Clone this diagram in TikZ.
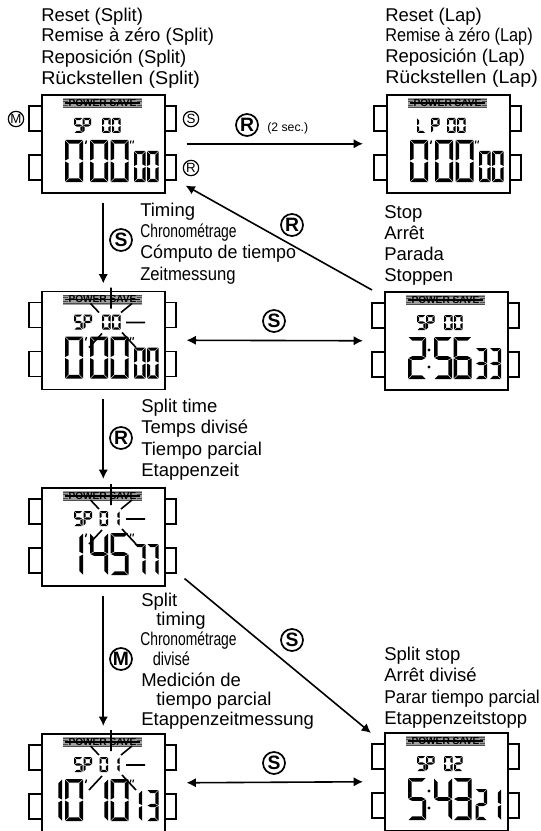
\documentclass[tikz,border=0pt]{standalone}
\usepackage{graphicx}
\usepackage{fontspec}
\setmainfont{Liberation Sans}
\usetikzlibrary{arrows.meta,calc}
\newcommand\sx[2]{\scalebox{#1}[1]{#2}}
% seven-segment pieces
\newcommand\segA{\fill (\qg,0)--(\qw-\qg,0)--(\qw-\qg-\qt,\qt)--(\qg+\qt,\qt)--cycle;}
\newcommand\segD{\fill (\qg,\qh)--(\qw-\qg,\qh)--(\qw-\qg-\qt,\qh-\qt)--(\qg+\qt,\qh-\qt)--cycle;}
\newcommand\segF{\fill (0,\qg)--(\qt,\qg+\qt)--(\qt,\qm-\qg-\qt/2)--(0,\qm-\qg)--cycle;}
\newcommand\segE{\fill (0,\qm+\qg)--(\qt,\qm+\qg+\qt/2)--(\qt,\qh-\qg-\qt)--(0,\qh-\qg)--cycle;}
\newcommand\segB{\fill (\qw,\qg)--(\qw-\qt,\qg+\qt)--(\qw-\qt,\qm-\qg-\qt/2)--(\qw,\qm-\qg)--cycle;}
\newcommand\segC{\fill (\qw,\qm+\qg)--(\qw-\qt,\qm+\qg+\qt/2)--(\qw-\qt,\qh-\qg-\qt)--(\qw,\qh-\qg)--cycle;}
\newcommand\segG{\fill (\qg,\qm)--(\qg+\qt,\qm-\qt/2)--(\qw-\qg-\qt,\qm-\qt/2)--(\qw-\qg,\qm)--(\qw-\qg-\qt,\qm+\qt/2)--(\qg+\qt,\qm+\qt/2)--cycle;}
\expandafter\def\csname dg0\endcsname{A,B,C,D,E,F}
\expandafter\def\csname dg1\endcsname{B,C}
\expandafter\def\csname dg2\endcsname{A,B,G,E,D}
\expandafter\def\csname dg3\endcsname{A,B,G,C,D}
\expandafter\def\csname dg4\endcsname{F,G,B,C}
\expandafter\def\csname dg5\endcsname{A,F,G,C,D}
\expandafter\def\csname dg6\endcsname{A,F,G,C,D,E}
\expandafter\def\csname dg7\endcsname{A,B,C}
\expandafter\def\csname dgS\endcsname{A,F,G,C,D}
\expandafter\def\csname dgP\endcsname{A,B,G,E,F}
\expandafter\def\csname dgL\endcsname{F,E,D}
% \dig{x}{y}{w}{h}{t}{char}
\newcommand\dig[6]{%
  \begin{scope}[shift={(#1,#2)}]
    \def\qw{#3}\def\qh{#4}\def\qt{#5}\def\qg{0.5}\pgfmathsetmacro\qm{#4/2}%
    \edef\qlist{\csname dg#6\endcsname}%
    \foreach \qs in \qlist {\csname seg\qs\endcsname}
  \end{scope}}
\newcommand\bigd[2]{\dig{#1}{46}{18}{42}{3.7}{#2}}
\newcommand\smalld[2]{\dig{#1}{57}{11.5}{31}{3.1}{#2}}
\newcommand\topd[2]{\dig{#1}{24}{8.5}{15}{2.2}{#2}}
\newcommand\tickA{\draw[line width=1] (45.5,46.5)--(44.5,50);}
\newcommand\tickB{\draw[line width=.8] (90,46.5)--(89.3,49.5) (92.5,46.5)--(91.8,49.5);}
\newcommand\colondots{\fill (45,59) circle (1.7) (45,76) circle (1.7);}
\newcommand\rays{\draw[ray] (70,-3)--(70,18) (49.5,13)--(58,22) (91,13)--(80,22) (61,43)--(48,57) (81,42)--(95,57) (85,32)--(104,32);}
% \watch{name}{x}{y}{content}
\newcommand\watch[4]{%
  \node[body] (#1) at (#2,#3) {};
  \begin{scope}[shift={(#2,#3)}]
    \draw[edge] (0,12)--(-12,12)--(-12,37)--(0,37) (0,61)--(-12,61)--(-12,86)--(0,86);
    \draw[edge] (123,12)--(135,12)--(135,37)--(123,37) (123,61)--(135,61)--(135,86)--(123,86);
    \fill[gray!75] (22,4) rectangle (101,14);
    \draw[line width=.5,black!70] (22,5)--(101,5) (22,7)--(27,7) (96,7)--(101,7) (22,11)--(27,11) (96,11)--(101,11) (22,13)--(101,13);
    \node[powertext] (#1p) at (61.5,9) {POWER SAVE};
    \draw[line width=.8] (24,9)--(99,9);
    #4
  \end{scope}}
\tikzset{
  x=.75pt,y=-.75pt,
  edge/.style={line width=1.15},
  ray/.style={line width=1.2},
  body/.style={draw,line width=1.15,anchor=north west,rectangle,inner sep=0,minimum width=92.25pt,minimum height=73.5pt},
  powertext/.style={inner sep=0,font=\bfseries\fontsize{7.6}{8}\selectfont,text=black},
  tx/.style={anchor=base west,inner sep=0,font=\fontsize{13.875}{16}\selectfont},
  arr/.style={line width=1.2,-{Latex[length=7pt,width=7pt]}},
  darr/.style={line width=1.2,{Latex[length=7pt,width=7pt]}-{Latex[length=7pt,width=7pt]}},
  bigc/.style={draw,circle,line width=1.3,inner sep=0,minimum size=16.5pt,font=\bfseries\fontsize{14.5}{15}\selectfont},
  smallc/.style={draw,circle,line width=.9,inner sep=0,minimum size=11.5pt,font=\fontsize{10}{10}\selectfont},
}
\begin{document}
\begin{tikzpicture}
\useasboundingbox (0,0) rectangle (541,831);
% watches
\watch{wa}{41}{94}{\topd{33}{S}\topd{41.5}{P}\topd{61}{0}\topd{71}{0}\bigd{24}{0}\tickA\bigd{49}{0}\bigd{69.5}{0}\tickB\smalld{93}{0}\smalld{106}{0}}
\watch{wb}{386}{94}{\topd{31}{L}\topd{45}{P}\topd{61}{0}\topd{71}{0}\bigd{24}{0}\tickA\bigd{49}{0}\bigd{69.5}{0}\tickB\smalld{93}{0}\smalld{106}{0}}
\watch{wc}{41}{290.5}{\rays\topd{33}{S}\topd{42.5}{P}\topd{61}{0}\topd{71}{0}\bigd{24}{0}\tickA\bigd{49}{0}\bigd{69.5}{0}\tickB\smalld{93}{0}\smalld{106}{0}}
\watch{wd}{384}{291}{\topd{33}{S}\topd{42}{P}\topd{60}{0}\topd{70}{0}\bigd{24}{2}\colondots\bigd{50}{5}\bigd{69.5}{6}\smalld{91.5}{3}\smalld{105.5}{3}}
\watch{we}{41}{487}{\rays\topd{33}{S}\topd{42.5}{P}\topd{58.5}{0}\topd{70}{1}\bigd{24}{1}\tickA\bigd{49}{4}\bigd{69.5}{5}\tickB\smalld{93}{7}\smalld{106}{7}}
\watch{wf}{41}{733}{\rays\topd{33}{S}\topd{42.5}{P}\topd{58.5}{0}\topd{70}{1}\bigd{3}{1}\bigd{24}{0}\tickA\bigd{49}{1}\bigd{69.5}{0}\tickB\smalld{89.5}{1}\smalld{106}{3}}
\watch{wg}{384}{732}{\topd{33}{S}\topd{42}{P}\topd{60}{0}\topd{70}{2}\bigd{24}{5}\colondots\bigd{50}{4}\bigd{69.5}{3}\smalld{91.5}{2}\smalld{105.5}{1}}
% connectors
\draw[arr] ([shift={(21,0)}]wa.east) -- ([shift={(-23,0)}]wb.west);
\draw[arr] ([shift={(0,9)}]wa.south) -- ([shift={(0,-7)}]wc.north);
\draw[arr] ([shift={(-12,-1)}]wd.north west) -- ([shift={(20,-8)}]wa.south east);
\draw[darr] ([shift={(21,0)}]wc.east) -- ([shift={(-21,0)}]wd.west);
\draw[arr] ([shift={(0,9)}]wc.south) -- ([shift={(0,-8)}]we.north);
\draw[arr] ([shift={(0,9)}]we.south) -- ([shift={(0,-7)}]wf.north);
\draw[arr] ([shift={(19,-8)}]we.south east) -- ([shift={(-13,1)}]wg.north west);
\draw[darr] ([shift={(21,0)}]wf.east) -- ([shift={(-21,0)}]wg.west);
% button labels
\node[smallc] (lm) at (16,119) {M};
\node[smallc] (ls) at (191,119) {S};
\node[smallc] (lr) at (191,168) {R};
% connector labels
\node[bigc] (c1) at (247,125) {R};
\node[anchor=base west,inner sep=0,font=\fontsize{9.2}{10}\selectfont] (sec) at (267,131.5) {(2 sec.)};
\node[bigc] (c2) at (121,240) {S};
\node[bigc] (c3) at (292,225) {R};
\node[bigc] (c4) at (274,321) {S};
\node[bigc] (c5) at (121,438) {R};
\node[bigc] (c6) at (121,659) {M};
\node[bigc] (c7) at (292,640) {S};
\node[bigc] (c8) at (274,763) {S};
% texts
\node[tx] (t1) at (41,22) {Reset (Split)};
\node[tx] (t2) at (41,42) {Remise à zéro (Split)};
\node[tx] (t3) at (41,64) {Reposición (Split)};
\node[tx] (t4) at (41,85) {\sx{1.065}{Rückstellen (Split)}};
\node[tx] (t5) at (385,22) {Reset (Lap)};
\node[tx] (t6) at (385,42) {\sx{.88}{Remise à zéro (Lap)}};
\node[tx] (t7) at (385,63) {Reposición (Lap)};
\node[tx] (t8) at (385,84) {\sx{1.06}{Rückstellen (Lap)}};
\node[tx] (t9) at (140,216) {Timing};
\node[tx] (t10) at (140,237) {\sx{.75}{Chronométrage}};
\node[tx] (t11) at (140,258) {\sx{.965}{Cómputo de tiempo}};
\node[tx] (t12) at (140,280) {\sx{.9}{Zeitmessung}};
\node[tx] (t13) at (384,218) {Stop};
\node[tx] (t14) at (384,239) {Arrêt};
\node[tx] (t15) at (384,260) {Parada};
\node[tx] (t16) at (384,281) {Stoppen};
\node[tx] (t17) at (141,412) {Split time};
\node[tx] (t18) at (141,433) {Temps divisé};
\node[tx] (t19) at (141,455) {Tiempo parcial};
\node[tx] (t20) at (141,476) {Etappenzeit};
\node[tx] (t21) at (141,606) {Split};
\node[tx] (t22) at (156,625) {timing};
\node[tx] (t23) at (140,645) {\sx{.75}{Chronométrage}};
\node[tx] (t24) at (152.5,665) {\sx{.79}{divisé}};
\node[tx] (t25) at (141,686) {Medición de};
\node[tx] (t26) at (156,705) {tiempo parcial};
\node[tx] (t27) at (141,725) {Etappenzeitmessung};
\node[tx] (t28) at (384,660) {Split stop};
\node[tx] (t29) at (384,681) {Arrêt divisé};
\node[tx] (t30) at (384,703) {\sx{.94}{Parar tiempo parcial}};
\node[tx] (t31) at (384,724) {Etappenzeitstopp};
\end{tikzpicture}
\end{document}
